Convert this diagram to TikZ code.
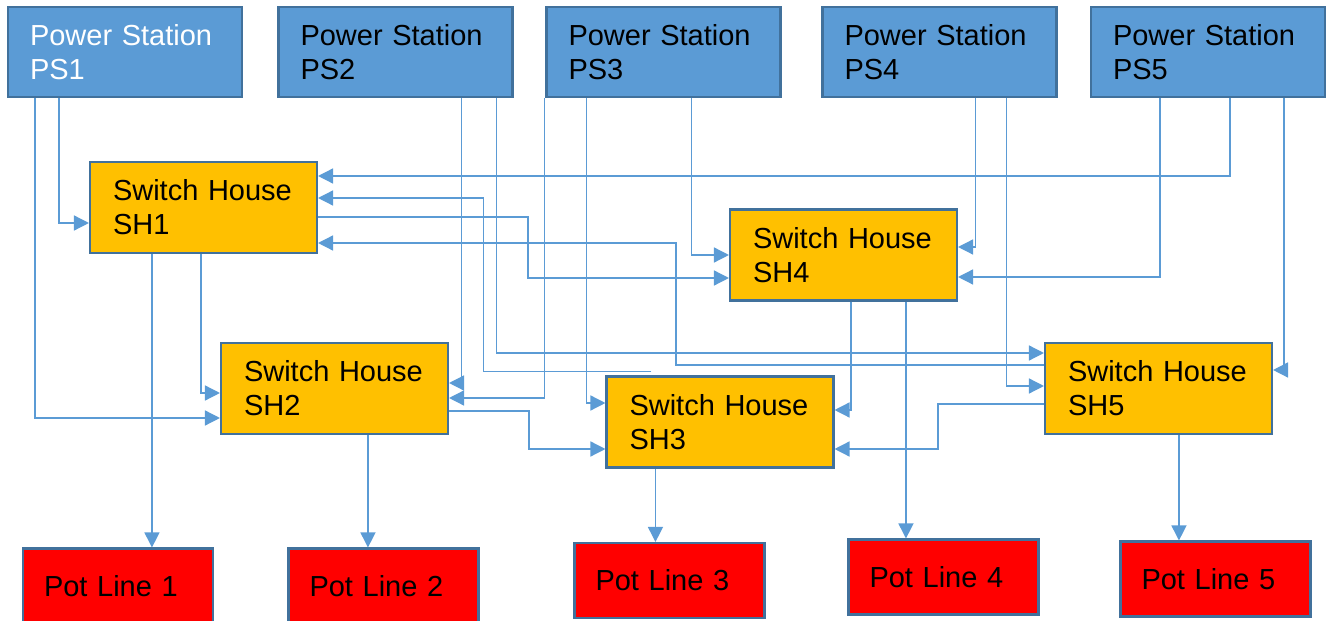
\documentclass[tikz,border=0pt]{standalone}
\usepackage{fontspec}
\setmainfont{Liberation Sans}
\usepackage{xcolor}
\usetikzlibrary{arrows.meta, calc}

\definecolor{psblue}{HTML}{5B9BD5}
\definecolor{boxedge}{HTML}{41719C}
\definecolor{shgold}{HTML}{FFC000}
\definecolor{potred}{HTML}{FF0000}

\begin{document}
\begin{tikzpicture}[
    x=0.02cm, y=-0.02cm,
    >={Triangle[length=0.3cm, width=0.3cm]},
    box/.style={draw=boxedge, line width=1.2pt, inner ysep=0pt, align=left,
                font=\fontsize{16.5}{19.5}\selectfont},
    psbox/.style={box, fill=psblue, text width=3.8cm, inner xsep=0.44cm, minimum height=1.8cm},
    shbox/.style={box, fill=shgold, text width=3.62cm, inner xsep=0.46cm, minimum height=1.82cm},
    potbox/.style={box, fill=potred, text width=2.96cm, inner xsep=0.42cm, minimum height=1.5cm},
    link/.style={draw=psblue, line width=0.8pt, ->}
]
\useasboundingbox (0,0) rectangle (1330,621);
\clip (0,0) rectangle (1330,621);

% ==========================================
% 1. Power Stations
% ==========================================
\node[psbox, text=white] (PS1) at (125, 52)    {Power Station\\PS1};
\node[psbox] (PS2) at (395.5, 52)  {Power Station\\PS2};
\node[psbox] (PS3) at (663.5, 52)  {Power Station\\PS3};
\node[psbox] (PS4) at (939.5, 52)  {Power Station\\PS4};
\node[psbox] (PS5) at (1208, 52)   {Power Station\\PS5};

% ==========================================
% 2. Switch Houses
% ==========================================
\node[shbox] (SH1) at (203.5, 207.5) {Switch House\\SH1};
\node[shbox] (SH4) at (843.5, 255)   {Switch House\\SH4};
\node[shbox] (SH2) at (334.5, 388.5) {Switch House\\SH2};
\node[shbox] (SH3) at (720, 422)     {Switch House\\SH3};
\node[shbox] (SH5) at (1158.5, 388.5) {Switch House\\SH5};

% ==========================================
% 3. Pot Lines
% ==========================================
\node[potbox] (Pot1) at (118, 586)    {Pot Line 1};
\node[potbox] (Pot2) at (383.5, 586)  {Pot Line 2};
\node[potbox] (Pot3) at (669.5, 580.5) {Pot Line 3};
\node[potbox] (Pot4) at (943.5, 577)  {Pot Line 4};
\node[potbox] (Pot5) at (1215.5, 579) {Pot Line 5};

% ==========================================
% 4. Feeds from the power stations
% ==========================================
\draw[link] ($(PS1.south west)+(28,0)$)  |- ($(SH2.west)+(0,29.5)$);
\draw[link] ($(PS1.south west)+(52,0)$)  |- ($(SH1.west)+(0,15.5)$);

\draw[link] ($(PS2.south west)+(184,0)$) |- ($(SH2.east)+(0,-5.5)$);
\draw[link] ($(PS2.south west)+(219,0)$) |- ($(SH5.west)+(0,-35.5)$);

\draw[link] ($(PS3.south west)+(-1,0)$)  |- ($(SH2.east)+(0,9.5)$);
\draw[link] ($(PS3.south west)+(41,0)$)  |- ($(SH3.west)+(0,-19)$);
\draw[link] ($(PS3.south west)+(146,0)$) |- (SH4.west);

\draw[link] ($(PS4.south west)+(154,0)$) |- ($(SH4.east)+(0,-8)$);
\draw[link] ($(PS4.south west)+(185,0)$) |- ($(SH5.west)+(0,-2.5)$);

\draw[link] ($(PS5.south west)+(70,0)$)  |- ($(SH4.east)+(0,22)$);
\draw[link] ($(PS5.south west)+(140,0)$) |- ($(SH1.east)+(0,-31.5)$);
\draw[link] ($(PS5.south west)+(194,0)$) |- ($(SH5.east)+(0,-18.5)$);

% ==========================================
% 5. Ties between switch houses
% ==========================================
\draw[link] ($(SH3.north west)+(46,-4)$) -- ++(-168,0) |- ($(SH1.east)+(0,-9.5)$);
\draw[link] ($(SH1.east)+(0,9.5)$)   -- ++(210,0)  |- ($(SH4.west)+(0,23)$);
\draw[link] ($(SH5.west)+(0,-23.5)$) -- ++(-368,0) |- ($(SH1.east)+(0,35.5)$);
\draw[link] ($(SH1.south west)+(112,0)$) |- ($(SH2.west)+(0,4.5)$);
\draw[link] ($(SH2.east)+(0,22.5)$)  -- ++(80,0)   |- ($(SH3.west)+(0,27)$);
\draw[link] ($(SH4.south)+(7.5,0)$)  |- ($(SH3.east)+(0,-12)$);
\draw[link] ($(SH5.west)+(0,15.5)$)  -- ++(-106,0) |- ($(SH3.east)+(0,27)$);

% ==========================================
% 6. Switch houses down to pot lines
% ==========================================
\coordinate (d1) at ($(SH1.south west)+(63,0)$);
\coordinate (d2) at ($(SH2.south west)+(148,0)$);
\coordinate (d3) at ($(SH3.south west)+(50,0)$);
\coordinate (d4) at ($(SH4.south west)+(177,0)$);
\coordinate (d5) at ($(SH5.south west)+(135,0)$);
\draw[link] (d1) -- (d1 |- Pot1.north);
\draw[link] (d2) -- (d2 |- Pot2.north);
\draw[link] (d3) -- (d3 |- Pot3.north);
\draw[link] (d4) -- (d4 |- Pot4.north);
\draw[link] (d5) -- (d5 |- Pot5.north);

\end{tikzpicture}
\end{document}
